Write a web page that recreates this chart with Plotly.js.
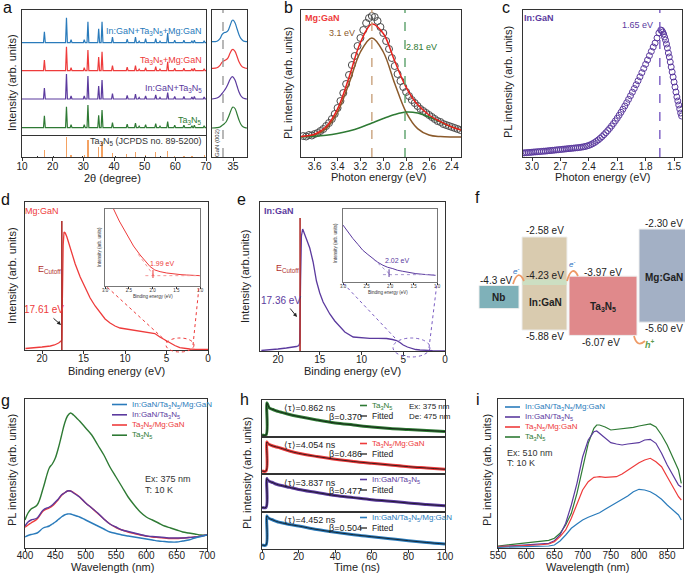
<!DOCTYPE html>
<html><head><meta charset="utf-8">
<script src="https://cdn.plot.ly/plotly-3.0.1.min.js"></script>
<style>html,body{margin:0;padding:0;background:#fff}#chart{width:685px;height:573px}</style>
</head><body><div id="chart"></div>
<script>
// ================= DATA =================
// (a) XRD peaks (2theta) and peak heights per sample
const xrdPeakPos = [17.3, 24.5, 26.0, 30.3, 31.5, 35.0, 36.1, 39.5, 44.3, 47.0, 48.2, 50.3, 53.6, 55.0, 57.5, 59.8, 62.8, 65.4, 66.2, 69.4];
const xrdTa3N5   = [12, 21, 3, 3, 22.7, 12.5, 17.6, 5, 3.5, 4.5, 1.5, 3, 4, 1.5, 6, 2.5, 2.5, 2, 2.5, 2];
const xrdInTa    = [11, 25, 3, 3, 23, 13, 19, 5.5, 3.5, 5, 1.5, 3, 4, 1.5, 6.3, 2.5, 2.5, 2, 2.5, 2];
const xrdTaMg    = [10.7, 24, 3, 3, 20.7, 13.7, 19, 5, 3.5, 5, 1.5, 3, 4, 1.5, 9, 2.5, 2.5, 2, 2.5, 2];
const xrdAll     = [11, 25, 3, 3, 21, 14, 21, 5.5, 3.5, 5.7, 1.5, 4, 4, 1.5, 9.7, 2.5, 2.5, 2, 2.5, 2];
const xrdLabels  = ['Ta<sub>3</sub>N<sub>5</sub>', 'In:GaN+Ta<sub>3</sub>N<sub>5</sub>', 'Ta<sub>3</sub>N<sub>5</sub>+Mg:GaN', 'In:GaN+Ta<sub>3</sub>N<sub>5</sub>+Mg:GaN'];
const refPos = [17.3, 24.5, 26.0, 30.3, 31.5, 35.0, 36.1, 39.4, 44.2, 47.0, 50.3, 53.6, 57.5, 59.8, 62.8, 65.4, 69.4];
const refH   = [7, 20, 2, 2, 17, 10, 15, 4, 3, 5, 2, 5, 6, 1.5, 1.5, 1.5, 2];
const refMinorPos = [15.0, 20.2, 29.7, 40.6, 50.4, 55.1, 59.9];
const refMinorH   = [1.5, 1.5, 1.5, 1.5, 1.5, 1.5, 1.5];
// (a) zoom near 35 deg
const zX      = [33.95, 34.2, 34.35, 34.45, 34.55, 34.65, 34.75, 34.85, 34.95, 35.0, 35.1, 35.2, 35.3, 35.4, 35.5, 35.6, 35.7];
const zTa3N5  = [0, 0.3, 1, 2.5, 4, 6, 10, 15, 20, 21, 19.5, 14, 8, 3.5, 1.2, 0.3, 0];
const zInTa   = [0, 1, 3, 5.5, 8, 11, 15, 19.5, 22.3, 22, 19, 13, 7, 3, 1, 0.3, 0];
const zTaMg   = [0, 0.5, 3, 6, 7.5, 8.5, 10.5, 15, 18.5, 19, 17, 12, 6.5, 3, 1, 0.3, 0];
const zAll    = [0, 0.5, 3, 7, 9, 9.5, 11, 16, 21, 21.7, 19, 13, 7, 3, 1, 0.3, 0];
const gan002 = 34.5;

// (b) Mg:GaN PL
const bX = [3.700,3.675,3.650,3.625,3.600,3.575,3.550,3.525,3.500,3.475,3.450,3.425,3.400,3.375,3.350,3.325,3.300,3.275,3.250,3.225,3.200,3.175,3.150,3.125,3.100,3.075,3.050,3.025,3.000,2.975,2.950,2.925,2.900,2.875,2.850,2.825,2.800,2.775,2.750,2.725,2.700,2.675,2.650,2.625,2.600,2.575,2.550,2.525,2.500,2.475,2.450,2.425,2.400,2.375,2.350,2.325];
const bY = [1,0.5,2,1.5,3,4,6,8,11,14,18,23,29,36,44,53,62,72,81,91,99,107,114,119,121,120,116,110,104,96,88,79,71,63,56,50,45,41,37,34,31,28,26,24,22,20,18,16,15,13,12,11,10,9,8,7];
const bFitX   = [3.72, 3.7, 3.6, 3.5, 3.4, 3.3, 3.2, 3.1, 3.0, 2.9, 2.8, 2.7, 2.6, 2.5, 2.4, 2.32];
const bFit31  = [0.3, 0.4, 2, 8.4, 24.7, 53.5, 85, 99, 85, 53.5, 24.7, 8.4, 2, 0.4, 0, 0];
const bFit281 = [0.2, 0.3, 0.8, 1.8, 3.5, 6, 9.5, 14, 18.5, 22.5, 25, 24, 20, 15, 10, 7];
const bFitSum = [0.5, 0.7, 2.8, 10.2, 28.2, 59.5, 94.5, 113, 103.5, 76, 49.7, 32.4, 22, 15.4, 10, 7];
const bPeaks = [3.1, 2.81];

// (c) In:GaN PL
const cX = [3.10,3.08,3.06,3.04,3.02,3.00,2.98,2.96,2.94,2.92,2.90,2.88,2.86,2.84,2.82,2.80,2.78,2.76,2.74,2.72,2.70,2.68,2.66,2.64,2.62,2.60,2.58,2.56,2.54,2.52,2.50,2.48,2.46,2.44,2.42,2.40,2.38,2.36,2.34,2.32,2.30,2.28,2.26,2.24,2.22,2.20,2.18,2.16,2.14,2.12,2.10,2.08,2.06,2.04,2.02,2.00,1.98,1.96,1.94,1.92,1.90,1.88,1.86,1.84,1.82,1.80,1.78,1.76,1.74,1.72,1.70,1.68,1.66,1.64,1.63,1.62,1.61,1.60,1.59,1.58,1.57,1.56,1.55,1.54,1.53,1.52,1.51,1.50,1.49,1.48,1.47,1.46,1.45,1.44,1.43,1.42];
const cY = [4.0,4.2,4.3,4.5,4.6,4.8,5.0,5.1,5.3,5.4,5.6,5.8,5.9,6.1,6.3,6.5,6.7,6.9,7.1,7.3,7.5,7.7,7.9,8.1,8.3,8.5,8.7,8.9,9.1,9.3,9.5,9.8,10.1,10.5,11.0,11.6,12.4,13.3,14.4,15.7,17.1,18.7,20.4,22.3,24.3,26.4,28.6,31.0,33.5,36.1,38.8,41.7,44.7,47.8,51.0,54.3,57.7,61.2,64.8,68.5,72.3,76.2,80.2,84.3,88.5,92.7,97.0,101.3,105.6,110,114,119,124,127,126.5,125,123,120,117,113,109,104,100,95,90,85,80,75,70,65,60,56,52,48,44,41];
const cPeak = 1.65;

// (d) Mg:GaN UPS
const dBE = [22,21,20,19,18.5,18,17.8,17.7,17.62,17.55,17.45,17.35,17.2,17.0,16.7,16.4,16.0,15.4,14.8,14.2,13.6,13.0,12.4,11.8,11.2,10.6,9.8,9.0,8.0,7.0,6.4,5.8,5.2,4.6,4.0,3.4,2.8,2.2,1.5,0.8,0];
const dI  = [1.5,2,3,4,5,7,8,9,10,60,105,118,117,113,105,95,86,73,62,52,44,37,31,27,24,22,21,20,19,18,16.5,13,10,7,4.5,2.3,1.5,1,0.7,0.5,0.5];
const dCutoff = 17.61;
const dInsX = [2.9, 2.82, 2.7, 2.54, 2.4, 2.26, 2.15, 2.05, 1.95, 1.84, 1.7, 1.56, 1.4, 1.28, 1.1, 1.0];
const dInsY = [250, 231, 195, 153, 120, 93, 73, 58, 48, 43, 39, 36, 34, 33, 31.5, 31];
const dEdge = 1.99;
const dTanX = [2.3, 1.95], dTanY = [95, 27];
const dBaseX = [2.15, 1.0], dBaseY = [31, 31];

// (e) In:GaN UPS
const eBE = [22,21,20,19,18.2,17.8,17.5,17.4,17.3,17.2,17.05,16.9,16.6,16.2,15.8,15.4,15.0,14.6,14.2,13.8,13.2,12.6,12.0,11.0,10.0,9.0,8.0,7.0,6.3,5.8,5.4,5.0,4.5,4.0,3.5,3.0,2.5,1.5,0];
const eI  = [0.5,1,2,3,3.8,4.5,5.5,8,70,115,122,119,112,103,89,70,58,49,43,37,30,24,19,14,13,12.7,12.7,12.5,11.5,10.5,8.5,6,4,2.5,1.5,1,0.6,0.3,0.2];
const eCutoff = 17.36;
const eInsX = [3.0, 2.9, 2.79, 2.68, 2.58, 2.47, 2.37, 2.26, 2.15, 2.05, 1.94, 1.84, 1.73, 1.6, 1.45, 1.3, 1.17, 1.03];
const eInsY = [170, 150, 130, 112, 95, 82, 70, 59, 50, 44, 40, 35, 32, 28, 25, 23, 22, 20];
const eEdge = 2.02;
const eTanX = [2.35, 1.97], eTanY = [68, 19];
const eBaseX = [2.15, 1.0], eBaseY = [22, 22];

// (f) band diagram (eV)
const bandNames  = ['Nb', 'In:GaN', 'Ta<sub>3</sub>N<sub>5</sub>', 'Mg:GaN'];
const bandTop    = [-4.3, -2.58, -3.97, -2.30];
const bandBottom = [-5.12, -5.88, -6.07, -5.60];
const inGaNLevel = -4.23;

// (g) steady-state PL, Ex 375 nm
const gX = [400,405,410,420,430,440,445,450,455,460,465,470,475,480,485,490,500,510,520,530,540,550,560,570,580,590,600,610,620,630,640,650,660,670,680,690,700];
const gAll  = [11,12.5,13.5,15,20,22,24,26,28.5,31,33,34,34,33,32,31,28,25,22,19,16,14.5,13,12,11,10,9,8,7,6.5,6,6,7,8,10,11.5,13];
const gInTa = [22,26,28,30,38,41,43,46,49,53,55,57,57,55,53,51,45,40,35,29,24,21,18,16.5,15,13.5,12,11.5,11,10.5,10,10,10,10.5,11,12,13];
const gTaMg = [20.7,23,25,29,37,40,42,45,48.5,52.5,55,57,57,55.5,53.5,51,45,40,34.5,29,24,20.5,18,16,14.5,13,12,11,10.5,10,9.5,9.5,10,10.5,11,12,13];
const gTa   = [28,35,39,43,60,80,84,90,100,112,124,132,135,133,130,127,120,113,103,93,81,71,61,51,43,36,31,28,25,22,20,18,16,15,14,13,13];
const seriesNames = ['In:GaN/Ta<sub>3</sub>N<sub>5</sub>/Mg:GaN', 'In:GaN/Ta<sub>3</sub>N<sub>5</sub>', 'Ta<sub>3</sub>N<sub>5</sub>/Mg:GaN', 'Ta<sub>3</sub>N<sub>5</sub>'];

// (h) TRPL decays
const hT = [0, 2.2, 2.6, 3, 4, 6, 8, 10, 15, 20, 30, 40, 50, 60, 70, 80, 90, 100];
const hTa   = [2, 2, 34, 33, 29, 27.5, 26, 25, 22.5, 20.5, 17, 14, 12, 10, 8.5, 7.5, 6.5, 5.5];
const hTaMg = [3, 3, 32, 31, 29.5, 28, 27, 26, 23, 20.7, 17.5, 14.7, 12.5, 10.7, 9, 7.3, 6, 4.7];
const hInTa = [4.5, 4.5, 32.5, 31.5, 30, 28.5, 27, 26, 24, 22, 19, 16, 14, 12, 10.5, 8.7, 7.3, 6];
const hAll  = [4, 4, 33, 32, 30.5, 29, 27.5, 26.5, 24.5, 23, 19.5, 16.7, 14.3, 12.3, 10.3, 8.3, 6.5, 5];
const hTau  = ['0.862', '4.054', '3.837', '4.452'];
const hBeta = ['0.370', '0.486', '0.477', '0.504'];

// (i) steady-state PL, Ex 510 nm
const iX = [550,600,620,640,650,660,670,680,690,700,710,720,725,730,740,750,760,770,780,790,800,810,820,830,840,850,860,870,875];
const iTa   = [2,5,6,7.7,9.7,14.7,23,34.7,54.7,81,104.7,119.7,123,123,121,118,118.7,118.7,119.7,120.7,122,123,124,121,113,103,91,78,64.7];
const iInTa = [1.3,3,3.8,4.7,7.3,13,24.7,43,64.7,91,108,116.3,117,114.7,109.7,105.3,104,103,104,104.7,105.3,108,108.7,104.7,94.7,83,73,63,61];
const iTaMg = [1.3,2,3,4,6.3,11.3,18,29.7,43,58,66.3,70.7,71,71.3,70.7,70.7,71.3,74,78,81.3,85.3,88,89.7,86.3,81.3,71.3,61.3,51.3,48];
const iAll  = [0.7,1.3,1.6,2,3,7,13,19.7,24,28,30.7,33,34,35.3,38.7,42,45.3,48.7,52,56.3,58.7,58,56.3,53,48.7,43,38,33,28];

// ================= STYLE / LAYOUT =================
const W = 685, H = 573, FONT = '"Liberation Sans", Arial, sans-serif';
const fx = p => p / W, fy = p => 1 - p / H;
const xd = (a, b) => [fx(a), fx(b)], yd = (t, b) => [fy(b), fy(t)];
const C = {blue:'#2a7bbb', purple:'#5b3a9e', red:'#ee3b3b', green:'#2e7a34', orange:'#f4a262', brown:'#8b5a2b', dred:'#b0302c', grey:'#555'};

const traces = [];
function ax(n){ return n === 1 ? '' : String(n); }
function L(x, y, n, color, width, extra){
  traces.push(Object.assign({type:'scatter', mode:'lines', x:x, y:y, xaxis:'x'+ax(n), yaxis:'y'+ax(n), line:{color:color, width:width}, hoverinfo:'skip'}, extra || {}));
}
const shift = (arr, off) => arr.map(v => v + off);

// (a) main XRD
const xrdStackOffset = [7.3, 36, 64.3, 92.3];
const xrdColors = [C.green, C.purple, C.red, C.blue];
[xrdTa3N5, xrdInTa, xrdTaMg, xrdAll].forEach((hts, k) => {
  const base = xrdStackOffset[k]; const xs = [10], ys = [base];
  xrdPeakPos.forEach((p, i) => { xs.push(p - 0.3, p, p + 0.3); ys.push(base, base + hts[i], base); });
  xs.push(70); ys.push(base);
  L(xs, ys, 1, xrdColors[k], 1.2);
});
traces.push({type:'bar', x:refPos, y:refH, width:0.4, marker:{color:C.orange}, xaxis:'x2', yaxis:'y2', hoverinfo:'skip'});
traces.push({type:'bar', x:refMinorPos, y:refMinorH, width:0.3, marker:{color:'#333'}, xaxis:'x2', yaxis:'y2', hoverinfo:'skip'});
const zOffset = [7, 36, 66.7, 93.3];
[zTa3N5, zInTa, zTaMg, zAll].forEach((arr, k) => L(zX, shift(arr, zOffset[k]), 3, xrdColors[k], 1.2, {line:{color:xrdColors[k], width:1.2, shape:'spline'}}));

// (b)
traces.push({type:'scatter', mode:'markers', x:bX, y:bY, xaxis:'x4', yaxis:'y4', marker:{symbol:'circle-open', size:7, color:'#4a4a4a', line:{width:1}}, hoverinfo:'skip'});
L(bFitX, bFit31, 4, C.brown, 1.5, {line:{color:C.brown, width:1.5, shape:'spline'}});
L(bFitX, bFit281, 4, C.green, 1.5, {line:{color:C.green, width:1.5, shape:'spline'}});
L(bFitX, bFitSum, 4, '#e8201c', 1.5, {line:{color:'#e8201c', width:1.5, shape:'spline'}});

// (c)
traces.push({type:'scatter', mode:'markers', x:cX, y:cY, xaxis:'x5', yaxis:'y5', marker:{symbol:'circle-open', size:6, color:C.purple, line:{width:1}}, hoverinfo:'skip'});

// (d)
L(dBE, dI, 6, C.red, 1.3);
L([dCutoff, dCutoff], [0, 129], 6, C.dred, 1.6);
L(dInsX, dInsY, 7, C.red, 1);
L(dTanX, dTanY, 7, '#f39a9a', 1, {line:{color:'#f39a9a', width:1, dash:'dot'}});
L(dBaseX, dBaseY, 7, '#f39a9a', 1, {line:{color:'#f39a9a', width:1, dash:'dot'}});
L([dEdge, dEdge], [24, 48], 7, C.red, 1);

// (e)
L(eBE, eI, 8, C.purple, 1.3);
L([eCutoff, eCutoff], [0, 133], 8, C.dred, 1.6);
L(eInsX, eInsY, 9, C.purple, 1);
L(eTanX, eTanY, 9, '#a898d0', 1, {line:{color:'#a898d0', width:1, dash:'dot'}});
L(eBaseX, eBaseY, 9, '#a898d0', 1, {line:{color:'#a898d0', width:1, dash:'dot'}});
L([eEdge, eEdge], [15, 38], 9, C.purple, 1);

// (f) band boxes
const boxCenter = [499, 544.5, 603, 664.5], boxWidth = [40, 45, 68, 51];
const boxColor = ['#7fb1b9', '#d9cbaf', '#e0898b', '#a3b0c5'];
traces.push({type:'bar', x:boxCenter, width:boxWidth, base:bandBottom, y:bandTop.map((t, i) => t - bandBottom[i]),
  marker:{color:boxColor, line:{color:'#eeeeee', width:1}}, xaxis:'x10', yaxis:'y10', hoverinfo:'skip'});

// (g)
const gColors = [C.blue, C.purple, C.red, C.green];
[[gTa, C.green], [gTaMg, C.red], [gInTa, C.purple], [gAll, C.blue]].forEach(p => L(gX, p[0], 11, p[1], 1.4, {line:{color:p[1], width:1.4, shape:'spline'}}));

// (h)
const hSeries = [hTa, hTaMg, hInTa, hAll], hColors = [C.green, C.red, C.purple, C.blue];
hSeries.forEach((arr, k) => {
  L(hT, arr, 12 + k, hColors[k], 3, {line:{color:hColors[k], width:3, shape:'spline'}});
  L(hT, arr, 12 + k, '#111', 0.8, {line:{color:'#111', width:0.8, shape:'spline'}});
});

// (i)
[[iTa, C.green], [iInTa, C.purple], [iTaMg, C.red], [iAll, C.blue]].forEach(p => L(iX, p[0], 16, p[1], 1.2));

// ---------- axes ----------
function axis(dom, range, extra){
  return Object.assign({domain:dom, range:range, showline:true, mirror:true, linecolor:'#333', linewidth:1.3,
    ticks:'', showticklabels:false, showgrid:false, zeroline:false, fixedrange:true}, extra || {});
}
function tk(vals, text, extra){
  return Object.assign({ticks:'outside', ticklen:3, tickwidth:1, tickcolor:'#333', showticklabels:true, ticklabelstandoff:-3,
    tickvals:vals, ticktext:text || vals.map(String), tickfont:{size:10, color:'#222', family:FONT}}, extra || {});
}
const mid = {ticklabelstandoff:-4};
const low = {ticklabelstandoff:-5};
const insetTk = tk([1, 1.5, 2, 2.5, 3], ['1.0', '1.5', '2.0', '2.5', '3.0'], {ticklen:1.5, ticklabelstandoff:-2, tickfont:{size:4.5, color:'#333', family:FONT}, linecolor:'#777', linewidth:1});
const layout = {
  width:W, height:H, margin:{l:0, r:0, t:0, b:0}, showlegend:false, paper_bgcolor:'#fff', plot_bgcolor:'rgba(0,0,0,0)',
  font:{family:FONT, color:'#222'}, bargap:0,
  xaxis:  axis(xd(22, 206), [10, 70], {anchor:'y'}),
  yaxis:  axis(yd(10, 135), [0, 125], {anchor:'x'}),
  xaxis2: axis(xd(22, 206), [10, 70], Object.assign({anchor:'y2', mirror:false}, tk([10, 20, 30, 40, 50, 60, 70]))),
  yaxis2: axis(yd(135, 157), [0, 22], {anchor:'x2'}),
  xaxis3: axis(xd(212, 247), [33.95, 35.7], Object.assign({anchor:'y3'}, tk([35]))),
  yaxis3: axis(yd(10, 157), [-22, 125], {anchor:'x3'}),
  xaxis4: axis(xd(301, 461), [3.72, 2.32], Object.assign({anchor:'y4'}, tk([2.4, 2.6, 2.8, 3.0, 3.2, 3.4, 3.6], ['2.4', '2.6', '2.8', '3.0', '3.2', '3.4', '3.6']))),
  yaxis4: axis(yd(10, 157), [-20, 127], {anchor:'x4'}),
  xaxis5: axis(xd(523, 682), [3.095, 1.416], Object.assign({anchor:'y5'}, tk([1.5, 1.8, 2.1, 2.4, 2.7, 3.0], ['1.5', '1.8', '2.1', '2.4', '2.7', '3.0']))),
  yaxis5: axis(yd(10, 157), [0, 147], {anchor:'x5'}),
  xaxis6: axis(xd(25, 208), [22.05, 0], Object.assign({anchor:'y6'}, tk([0, 5, 10, 15, 20], null, mid))),
  yaxis6: axis(yd(202, 350), [0, 148], {anchor:'x6'}),
  xaxis7: axis(xd(105, 200), [3.0, 1.0], Object.assign({anchor:'y7'}, insetTk)),
  yaxis7: axis(yd(209, 286), [0, 231], {anchor:'x7', linecolor:'#777', linewidth:1}),
  xaxis8: axis(xd(260, 445), [22.16, 0], Object.assign({anchor:'y8'}, tk([0, 5, 10, 15, 20], null, mid))),
  yaxis8: axis(yd(202, 351), [0, 149], {anchor:'x8'}),
  xaxis9: axis(xd(343, 437), [3.0, 1.0], Object.assign({anchor:'y9'}, insetTk)),
  yaxis9: axis(yd(209, 282), [0, 218], {anchor:'x9', linecolor:'#777', linewidth:1}),
  xaxis10: {domain:xd(455, 685), range:[455, 685], visible:false, anchor:'y10', fixedrange:true},
  yaxis10: {domain:yd(200, 345), range:[-6.41, -1.27], visible:false, anchor:'x10', fixedrange:true},
  xaxis11: axis(xd(25, 207), [400, 700], Object.assign({anchor:'y11'}, tk([400, 450, 500, 550, 600, 650, 700], null, low))),
  yaxis11: axis(yd(399, 548), [0, 149], {anchor:'x11'}),
  xaxis12: axis(xd(262, 445), [0, 100], {anchor:'y12'}),
  yaxis12: axis(yd(400, 437), [0, 37], {anchor:'x12'}),
  xaxis13: axis(xd(262, 445), [0, 100], {anchor:'y13'}),
  yaxis13: axis(yd(437, 474), [0, 37], {anchor:'x13'}),
  xaxis14: axis(xd(262, 445), [0, 100], {anchor:'y14'}),
  yaxis14: axis(yd(474, 512), [0, 37], {anchor:'x14'}),
  xaxis15: axis(xd(262, 445), [0, 100], Object.assign({anchor:'y15'}, tk([0, 20, 40, 60, 80, 100], null, low))),
  yaxis15: axis(yd(512, 549), [0, 37], {anchor:'x15'}),
  xaxis16: axis(xd(498, 683), [550, 878], Object.assign({anchor:'y16'}, tk([550, 600, 650, 700, 750, 800, 850], null, low))),
  yaxis16: axis(yd(399, 548), [0, 149], {anchor:'x16'}),
};

// ---------- shapes ----------
const shapes = [];
function vdash(xref, x, color){ shapes.push({type:'line', xref:xref, yref:xref.replace('x', 'y') + ' domain', x0:x, x1:x, y0:0, y1:1, line:{color:color, width:1.4, dash:'dash'}}); }
vdash('x3', gan002, '#9a9a9a');
vdash('x4', bPeaks[0], '#c9a27e');
vdash('x4', bPeaks[1], '#5aa06a');
vdash('x5', cPeak, '#7a5cc2');
function pline(x0, y0, x1, y1, color, width, dash){ shapes.push({type:'line', xref:'paper', yref:'paper', x0:fx(x0), y0:fy(y0), x1:fx(x1), y1:fy(y1), line:{color:color, width:width, dash:dash || 'solid'}}); }
function pell(x0, y0, x1, y1, color){ shapes.push({type:'circle', xref:'paper', yref:'paper', x0:fx(x0), y0:fy(y1), x1:fx(x1), y1:fy(y0), line:{color:color, width:1, dash:'dot'}}); }
pell(166, 338, 194, 352, C.red);
pline(167, 342, 107, 287, C.red, 1, 'dot');
pline(193, 345, 199, 287, C.red, 1, 'dot');
pell(393, 338, 430, 357, '#7a5cc2');
pline(395, 338, 343, 283, '#7a5cc2', 1, 'dot');
pline(429, 348, 437, 283, '#7a5cc2', 1, 'dot');
// (f) green level band and charge-transfer arcs
shapes.push({type:'rect', xref:'x10', yref:'y10', x0:522.5, x1:566.5, y0:inGaNLevel - 0.05, y1:inGaNLevel + 0.14, fillcolor:'#c9e3c5', opacity:0.85, line:{width:0}});
const P = (x, y) => fx(x) + ',' + fy(y);
function arc(a, b, c, color){ shapes.push({type:'path', xref:'paper', yref:'paper', path:'M' + P(a[0], a[1]) + ' Q' + P(b[0], b[1]) + ' ' + P(c[0], c[1]), line:{color:color, width:1.8}}); }
arc([513, 284], [518, 268], [524, 281], '#ee9a66');
arc([567, 281], [572, 264], [578, 276], '#ee9a66');
arc([634, 336], [637, 348], [645, 341], '#ee9a66');
// legends (g, i, h)
const legY = [404.5, 414.8, 425, 435.2];
gColors.forEach((c, k) => pline(112, legY[k], 127, legY[k], c, 1.6));
const legYi = [407, 417, 427, 437];
gColors.forEach((c, k) => pline(505, legYi[k], 520, legYi[k], c, 1.6));
const hLegY = [[405.5, 416], [443.5, 454], [479.5, 490], [517.5, 528]];
hColors.forEach((c, k) => { pline(360, hLegY[k][0], 367, hLegY[k][0], c, 1.6); pline(360, hLegY[k][1], 367, hLegY[k][1], '#111', 1.2); });
layout.shapes = shapes;

// ---------- annotations ----------
const ann = [];
function T(text, x, y, size, color, xa, extra){
  ann.push(Object.assign({text:text, x:fx(x), y:fy(y), xref:'paper', yref:'paper', showarrow:false, xanchor:xa || 'center', yanchor:'middle',
    font:{size:size, color:color || '#222', family:FONT}}, extra || {}));
}
// panel letters
[['a', 8, 8], ['b', 288, 8], ['c', 506, 8], ['d', 5, 199], ['e', 241, 199], ['f', 478, 197], ['g', 5, 400], ['h', 244, 399], ['i', 478, 399]]
  .forEach(l => T(l[0], l[1], l[2], 16, '#111'));
// axis titles
const rot = {textangle:-90};
T('Intensity (arb. units)', 12, 83, 11, '#222', 'center', rot);
T('2θ (degree)', 113, 178, 11);
T('PL intensity (arb. units)', 288, 83, 11, '#222', 'center', rot);
T('Photon energy (eV)', 378, 177, 11);
T('PL intensity (arb. units)', 508, 82, 11, '#222', 'center', rot);
T('Photon energy (eV)', 602, 177, 11);
T('Intensity (arb. units)', 12, 276, 11, '#222', 'center', rot);
T('Binding energy (eV)', 116, 370.5, 11);
T('Intensity (arb.units)', 245, 276, 11, '#222', 'center', rot);
T('Binding energy (eV)', 352, 370.5, 11);
T('PL intensity (arb. units)', 12, 470, 11, '#222', 'center', rot);
T('Wavelength (nm)', 113, 567, 11);
T('PL intensity (arb. units)', 247, 473, 11, '#222', 'center', rot);
T('Time (ns)', 357, 567, 11);
T('PL intensity (arb. units)', 487, 470, 11, '#222', 'center', rot);
T('Wavelength (nm)', 587, 567, 11);
// (a) labels
const xrdLabelY = [120, 89, 60, 31];
xrdLabels.forEach((t, k) => T(t, 204, xrdLabelY[k], 9, xrdColors[k], 'right'));
T('Ta<sub>3</sub>N<sub>5</sub> (JCPDS no. 89-5200)', 204, 142, 9, '#333', 'right');
T('GaN (002)', 217, 143, 6, '#333', 'center', rot);
// (b)
T('<b>Mg:GaN</b>', 322, 18, 9, C.red);
T('3.1 eV', 342, 33, 9, C.brown);
T('2.81 eV', 421, 47, 9, C.green);
// (c)
T('<b>In:GaN</b>', 539, 18, 9, C.purple);
T('1.65 eV', 637, 25, 9, C.purple);
// (d)
T('Mg:GaN', 42, 211, 9, C.red);
T('E<sub>Cutoff</sub>', 50, 269, 9, C.dred);
T('17.61 eV', 44, 309, 10, C.red);
ann.push({x:fx(61), y:fy(325), xref:'paper', yref:'paper', ax:-9, ay:-8, text:'', showarrow:true, arrowhead:2, arrowsize:0.8, arrowwidth:1, arrowcolor:'#222'});
T('1.99 eV', 162, 263, 7, C.red);
T('Binding energy (eV)', 153, 296.5, 4.5, '#333');
T('Intensity (arb. units)', 99, 247, 4.5, '#333', 'center', rot);
// (e)
T('<b>In:GaN</b>', 279, 211, 9, C.purple);
T('E<sub>Cutoff</sub>', 287, 268, 9, C.dred);
T('17.36 eV', 281, 300, 10, C.purple);
ann.push({x:fx(297), y:fy(317), xref:'paper', yref:'paper', ax:-8, ay:-10, text:'', showarrow:true, arrowhead:2, arrowsize:0.8, arrowwidth:1, arrowcolor:'#222'});
T('2.02 eV', 397, 260, 7, C.purple);
T('Binding energy (eV)', 388, 292.5, 4.5, '#333');
T('Intensity (arb. units)', 336, 243, 4.5, '#333', 'center', rot);
// (f)
T('-4.3 eV', 496, 280, 10, '#222');
T('-2.58 eV', 545, 231, 10, '#222');
T('-4.23 eV', 545, 275, 10, '#222');
T('-5.88 eV', 545, 336, 10, '#222');
T('-3.97 eV', 603, 272, 10, '#222');
T('-6.07 eV', 601, 342, 10, '#222');
T('-2.30 eV', 664, 223, 10, '#222');
T('-5.60 eV', 664, 328, 10, '#222');
T('<b>' + bandNames[0] + '</b>', 499, 297, 10, '#222');
T('<b>' + bandNames[1] + '</b>', 545, 302, 10, '#222');
T('<b>' + bandNames[2] + '</b>', 603, 307, 10, '#222');
T('<b>' + bandNames[3] + '</b>', 664, 277, 10, '#222');
T('<i>e<sup>-</sup></i>', 516, 271, 8, '#2a6fc0');
T('<i>e<sup>-</sup></i>', 572, 264, 8, '#2a6fc0');
T('<b><i>h<sup>+</sup></i></b>', 650, 344, 9, '#5a9a4a');
// (g)
seriesNames.forEach((t, k) => T(t, 130, legY[k], 8, gColors[k], 'left'));
T('Ex: 375 nm', 143, 479, 9, '#333', 'left');
T('T: 10 K', 143, 490, 9, '#333', 'left');
// (i)
seriesNames.forEach((t, k) => T(t, 523, legYi[k], 8, gColors[k], 'left'));
T('Ex: 510 nm', 505, 453, 9, '#333', 'left');
T('T: 10 K', 505, 463, 9, '#333', 'left');
// (h)
const hNames = ['Ta<sub>3</sub>N<sub>5</sub>', 'Ta<sub>3</sub>N<sub>5</sub>/Mg:GaN', 'In:GaN/Ta<sub>3</sub>N<sub>5</sub>', 'In:GaN/Ta<sub>3</sub>N<sub>5</sub>/Mg:GaN'];
const hTauY = [408, 445, 483, 520], hBetaY = [417, 454, 491, 528];
hNames.forEach((t, k) => {
  T('⟨τ⟩=' + hTau[k] + ' ns', 282, hTauY[k], 9, '#222', 'left');
  T('β=' + hBeta[k], 327, hBetaY[k], 9, '#222', 'left');
  T(t, 370, hLegY[k][0], 8, hColors[k], 'left');
  T('Fitted', 370, hLegY[k][1], 8.5, '#222', 'left');
});
T('Ex: 375 nm', 407, 406, 8, '#222', 'left');
T('De: 475 nm', 407, 416, 8, '#222', 'left');
layout.annotations = ann;

Plotly.newPlot('chart', traces, layout, {staticPlot:true, displayModeBar:false});
</script></body></html>
